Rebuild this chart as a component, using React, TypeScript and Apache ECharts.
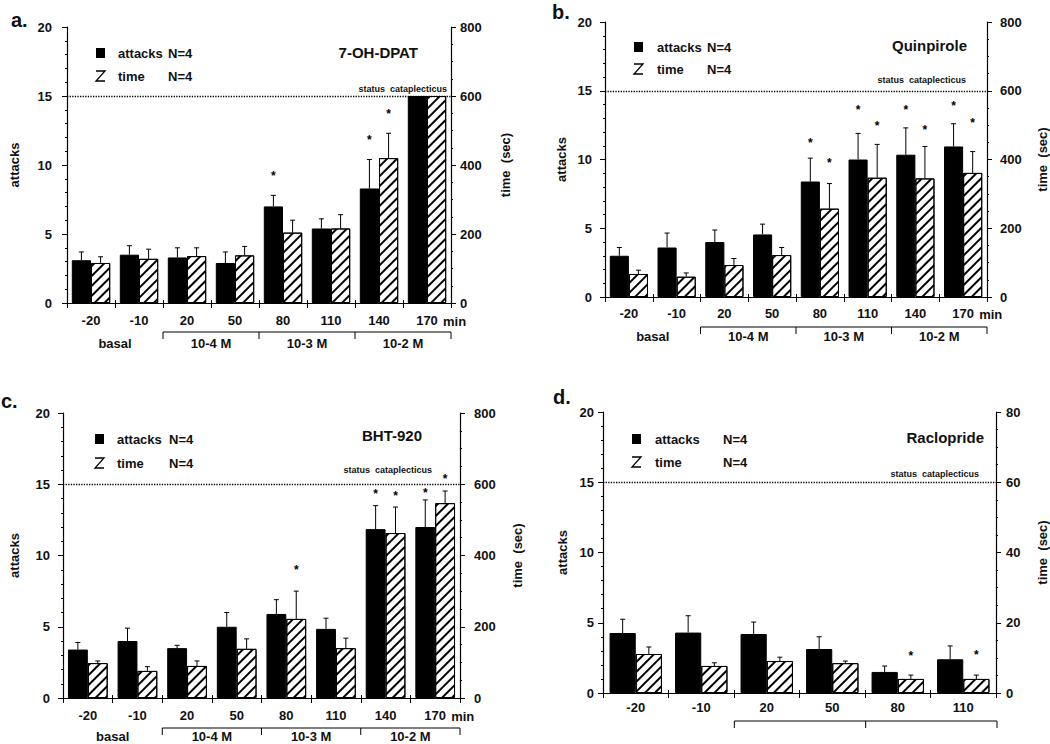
import React, { useEffect, useRef } from 'react';
import * as echarts from 'echarts';

// ---------- data ----------
const cats8 = ['-20', '-10', '20', '50', '80', '110', '140', '170'];
const cats6 = ['-20', '-10', '20', '50', '80', '110'];
const groupLabels = ['basal', '10-4 M', '10-3 M', '10-2 M'];
const titles = ['7-OH-DPAT', 'Quinpirole', 'BHT-920', 'Raclopride'];
const tags = ['a.', 'b.', 'c.', 'd.'];
const statusText = 'status  cataplecticus';
const legendAttacks = 'attacks';
const legendTime = 'time';
const legendN = 'N=4';

// a. 7-OH-DPAT (attacks, time in sec)
const aAttacks = [3.1, 3.5, 3.3, 2.9, 7.0, 5.4, 8.3, 15];
const aAttacksErr = [3.7, 4.15, 4.0, 3.7, 7.8, 6.1, 10.4, null];
const aTime = [116, 128, 136, 138, 204, 216, 420, 600];
const aTimeErr = [134, 156, 160, 164, 240, 256, 492, null];
const aAttackStars = [null, null, null, null, 9.4, null, 12.0, null];
const aTimeStars = [null, null, null, null, null, null, 556, null];

// b. Quinpirole
const bAttacks = [3.0, 3.6, 4.0, 4.55, 8.4, 10.0, 10.35, 10.95];
const bAttacksErr = [3.6, 4.65, 4.87, 5.3, 10.1, 11.9, 12.3, 12.6];
const bTime = [67, 59, 93, 122, 257, 347, 345, 361];
const bTimeErr = [78, 70, 112, 144, 330, 444, 438, 423];
const bAttackStars = [null, null, null, null, 11.4, 13.8, 13.8, 14.1];
const bTimeStars = [null, null, null, null, 400, 506, 494, 514];

// c. BHT-920
const cAttacks = [3.4, 4.0, 3.5, 5.0, 5.9, 4.85, 11.85, 12.0];
const cAttacksErr = [3.9, 4.9, 3.7, 6.0, 6.9, 5.6, 13.5, 13.9];
const cTime = [98, 76, 90, 138, 222, 140, 463, 547];
const cTimeErr = [104, 88, 104, 166, 300, 168, 536, 581];
const cAttackStars = [null, null, null, null, null, null, 14.5, 14.6];
const cTimeStars = [null, null, null, null, 368, null, 576, 623];

// d. Raclopride
const dAttacks = [4.27, 4.3, 4.2, 3.13, 1.5, 2.4];
const dAttacksErr = [5.25, 5.5, 5.05, 4.0, 1.92, 3.35];
const dTime = [11.1, 7.7, 9.1, 8.5, 4.0, 4.0];
const dTimeErr = [13.1, 8.6, 10.2, 9.1, 5.1, 5.1];
const dAttackStars = [null, null, null, null, null, null];
const dTimeStars = [null, null, null, null, 11.4, 11.6];

const attacksMax = 20;
const attacksStep = 5;
const statusLevel = 15;
const timeMaxes = [800, 800, 800, 80];
const timeSteps = [200, 200, 200, 20];

const PANELS = [
  { cats: cats8, at: aAttacks, atE: aAttacksErr, tm: aTime, tmE: aTimeErr, atS: aAttackStars, tmS: aTimeStars, brackets: true },
  { cats: cats8, at: bAttacks, atE: bAttacksErr, tm: bTime, tmE: bTimeErr, atS: bAttackStars, tmS: bTimeStars, brackets: true },
  { cats: cats8, at: cAttacks, atE: cAttacksErr, tm: cTime, tmE: cTimeErr, atS: cAttackStars, tmS: cTimeStars, brackets: true },
  { cats: cats6, at: dAttacks, atE: dAttacksErr, tm: dTime, tmE: dTimeErr, atS: dAttackStars, tmS: dTimeStars, brackets: false },
];

// ---------- layout (positions only) ----------
const LAYOUT = [
  { grid: { left: 67, top: 27, width: 384, height: 276 }, tag: [11, 20], lg: { ix: 100, iy: 53, tx: 118, nx: 168, dy: 23 }, title: [418, 52], status: [447, 89], bracketY: 332, groupY: 343, lm: 15, rm: 9, xm: 11, lgap: 46, rgap: 48 },
  { grid: { left: 605, top: 22, width: 382, height: 275 }, tag: [552, 12], lg: { ix: 638, iy: 47, tx: 657, nx: 707, dy: 22 }, title: [967, 45], status: [966, 80], bracketY: 327, groupY: 336, lm: 13, rm: 13, xm: 10, lgap: 37, rgap: 49 },
  { grid: { left: 63, top: 413, width: 397, height: 285 }, tag: [1, 401], lg: { ix: 99, iy: 439, tx: 117, nx: 169, dy: 24 }, title: [422, 435], status: [432, 470], bracketY: 728, groupY: 736, lm: 13, rm: 14, xm: 11, lgap: 42, rgap: 51 },
  { grid: { left: 603, top: 412, width: 394, height: 281 }, tag: [553, 397], lg: { ix: 636, iy: 439, tx: 655, nx: 723, dy: 23 }, title: [984, 437], status: [979, 474], bracketY: 721, groupY: 0, lm: 9, rm: 10, xm: 8, lgap: 34, rgap: 40 },
];

const FONT = "'Liberation Sans', Arial, Helvetica, sans-serif";
const INK = '#111';

function errRender(side: number) {
  return (params: any, api: any) => {
    const i = api.value(0);
    const v = api.value(1);
    const e = api.value(2);
    const b = api.coord([i, v]);
    const t = api.coord([i, e]);
    const band = api.size([1, 0])[0];
    const x = b[0] + side * band * 0.2;
    return {
      type: 'group',
      children: [
        { type: 'line', shape: { x1: x, y1: b[1], x2: x, y2: t[1] }, style: { stroke: '#000', lineWidth: 1 } },
        { type: 'line', shape: { x1: x - 2.5, y1: t[1], x2: x + 2.5, y2: t[1] }, style: { stroke: '#000', lineWidth: 1 } },
      ],
    };
  };
}

function starRender(side: number) {
  return (params: any, api: any) => {
    const i = api.value(0);
    const s = api.value(1);
    const p = api.coord([i, s]);
    const band = api.size([1, 0])[0];
    return {
      type: 'text',
      x: p[0] + side * band * 0.2,
      y: p[1] + 3,
      style: { text: '*', font: `bold 12px ${FONT}`, fill: '#000', align: 'center', verticalAlign: 'middle' },
    };
  };
}

function txt(text: string, x: number, y: number, size: number, align = 'left', weight = 'bold') {
  return {
    type: 'text',
    x,
    y,
    style: { text, font: `${weight} ${size}px ${FONT}`, fill: INK, align, verticalAlign: 'middle' },
  };
}

function buildOption() {
  const grid: any[] = [];
  const xAxis: any[] = [];
  const yAxis: any[] = [];
  const series: any[] = [];
  const graphic: any[] = [];

  PANELS.forEach((P, pi) => {
    const L = LAYOUT[pi];
    const g = L.grid;
    grid.push({ ...g, containLabel: false });
    const n = P.cats.length;
    const xb = pi * 2;
    const yl = pi * 2;
    const yr = pi * 2 + 1;
    xAxis.push({
      type: 'category', gridIndex: pi, data: P.cats, position: 'bottom',
      axisLine: { lineStyle: { color: '#000', width: 1.2 } },
      axisTick: { show: true, length: 5, lineStyle: { color: '#000' } },
      axisLabel: { interval: 0, margin: L.xm, color: INK, fontFamily: FONT, fontSize: 13, fontWeight: 'bold' },
    });
    xAxis.push({
      type: 'category', gridIndex: pi, data: P.cats, position: 'top',
      axisLine: { lineStyle: { color: '#000', width: 1.2 } },
      axisTick: { show: true, length: 3, lineStyle: { color: '#000' } },
      axisLabel: { show: false },
    });
    yAxis.push({
      type: 'value', gridIndex: pi, position: 'left', min: 0, max: attacksMax, interval: attacksStep,
      name: 'attacks', nameLocation: 'middle', nameRotate: 90, nameGap: L.lgap,
      nameTextStyle: { color: INK, fontFamily: FONT, fontSize: 13, fontWeight: 'bold' },
      axisLine: { show: true, lineStyle: { color: '#000', width: 1.2 } },
      axisTick: { show: true, length: 5, lineStyle: { color: '#000' } },
      minorTick: { show: true, splitNumber: 5, length: 2, lineStyle: { color: '#000' } },
      splitLine: { show: false },
      axisLabel: { margin: L.lm, color: INK, fontFamily: FONT, fontSize: 13, fontWeight: 'bold' },
    });
    yAxis.push({
      type: 'value', gridIndex: pi, position: 'right', min: 0, max: timeMaxes[pi], interval: timeSteps[pi],
      name: 'time  (sec)', nameLocation: 'middle', nameRotate: 90, nameGap: L.rgap,
      nameTextStyle: { color: INK, fontFamily: FONT, fontSize: 13, fontWeight: 'bold' },
      axisLine: { show: true, lineStyle: { color: '#000', width: 1.2 } },
      axisTick: { show: true, length: 5, lineStyle: { color: '#000' } },
      minorTick: { show: true, splitNumber: 4, length: 2, lineStyle: { color: '#000' } },
      splitLine: { show: false },
      axisLabel: { margin: L.rm, color: INK, fontFamily: FONT, fontSize: 13, fontWeight: 'bold' },
    });

    series.push({
      type: 'bar', xAxisIndex: xb, yAxisIndex: yl, data: P.at, barGap: '0%', barCategoryGap: '20%',
      itemStyle: { color: '#000', borderColor: '#000', borderWidth: 1 },
      markLine: {
        silent: true, symbol: ['none', 'none'], label: { show: false },
        lineStyle: { type: 'dotted', color: '#000', width: 1.3 },
        data: [{ yAxis: statusLevel }],
      },
    });
    series.push({
      type: 'bar', xAxisIndex: xb, yAxisIndex: yr, data: P.tm, barGap: '0%', barCategoryGap: '20%',
      itemStyle: {
        color: '#fff', borderColor: '#000', borderWidth: 1,
        decal: { symbol: 'rect', symbolSize: 1, color: '#000', backgroundColor: '#fff', dashArrayX: [1, 0], dashArrayY: [2, 5], rotation: -Math.PI / 4 },
      },
    });
    const ae = P.at.map((v, i) => (P.atE[i] == null ? null : [i, v, P.atE[i]])).filter(Boolean);
    const te = P.tm.map((v, i) => (P.tmE[i] == null ? null : [i, v, P.tmE[i]])).filter(Boolean);
    series.push({ type: 'custom', xAxisIndex: xb, yAxisIndex: yl, data: ae, renderItem: errRender(-1), encode: { x: 0, y: 1 }, z: 5 });
    series.push({ type: 'custom', xAxisIndex: xb, yAxisIndex: yr, data: te, renderItem: errRender(1), encode: { x: 0, y: 1 }, z: 5 });
    const as = P.atS.map((s, i) => (s == null ? null : [i, s])).filter(Boolean);
    const ts = P.tmS.map((s, i) => (s == null ? null : [i, s])).filter(Boolean);
    if (as.length) series.push({ type: 'custom', xAxisIndex: xb, yAxisIndex: yl, data: as, renderItem: starRender(-1), encode: { x: 0, y: 1 }, z: 5 });
    if (ts.length) series.push({ type: 'custom', xAxisIndex: xb, yAxisIndex: yr, data: ts, renderItem: starRender(1), encode: { x: 0, y: 1 }, z: 5 });

    // panel tag, title, status label
    graphic.push(txt(tags[pi], L.tag[0], L.tag[1], 20));
    graphic.push(txt(titles[pi], L.title[0], L.title[1], 15, 'right'));
    graphic.push(txt(statusText, L.status[0], L.status[1], 9, 'right'));

    // legend
    const lg = L.lg;
    graphic.push({ type: 'rect', shape: { x: lg.ix - 4, y: lg.iy - 5, width: 9, height: 10 }, style: { fill: '#000' } });
    graphic.push({
      type: 'polyline',
      shape: { points: [[lg.ix - 4, lg.iy - 5], [lg.ix + 5, lg.iy - 5], [lg.ix - 4, lg.iy + 5], [lg.ix + 5, lg.iy + 5]] },
      style: { stroke: '#000', lineWidth: 1.3, fill: 'none' },
      y: lg.dy,
    });
    graphic.push(txt(legendAttacks, lg.tx, lg.iy, 13));
    graphic.push(txt(legendN, lg.nx, lg.iy, 13));
    graphic.push(txt(legendTime, lg.tx, lg.iy + lg.dy, 13));
    graphic.push(txt(legendN, lg.nx, lg.iy + lg.dy, 13));

    // brackets beneath x axis
    const band = g.width / n;
    const bx = (k: number) => g.left + band * k;
    const by = L.bracketY;
    if (P.brackets) {
      graphic.push({ type: 'line', shape: { x1: bx(2), y1: by, x2: bx(8), y2: by }, style: { stroke: '#000', lineWidth: 1 } });
      [2, 4, 6, 8].forEach((k) => {
        graphic.push({ type: 'line', shape: { x1: bx(k), y1: by, x2: bx(k), y2: by + 7 }, style: { stroke: '#000', lineWidth: 1 } });
      });
      groupLabels.forEach((lab, j) => {
        graphic.push(txt(lab, bx(1 + 2 * j), L.groupY, 13, 'center'));
      });
      const labY = g.top + g.height + L.xm + 7;
      graphic.push(txt('min', bx(n) - band / 2 + 16, labY, 13));
    } else {
      graphic.push({ type: 'line', shape: { x1: bx(2), y1: by, x2: bx(6), y2: by }, style: { stroke: '#000', lineWidth: 1 } });
      [2, 4, 6].forEach((k) => {
        graphic.push({ type: 'line', shape: { x1: bx(k), y1: by, x2: bx(k), y2: by + 7 }, style: { stroke: '#000', lineWidth: 1 } });
      });
    }
  });

  return { animation: false, backgroundColor: '#fff', grid, xAxis, yAxis, series, graphic };
}

export default function App() {
  const ref = useRef<HTMLDivElement>(null);
  useEffect(() => {
    document.body.style.margin = '0';
    const chart = echarts.init(ref.current as HTMLDivElement, null, { renderer: 'svg' });
    chart.setOption(buildOption() as any);
    return () => chart.dispose();
  }, []);
  return <div ref={ref} style={{ position: 'absolute', left: 0, top: 0, width: 1050, height: 744 }} />;
}
